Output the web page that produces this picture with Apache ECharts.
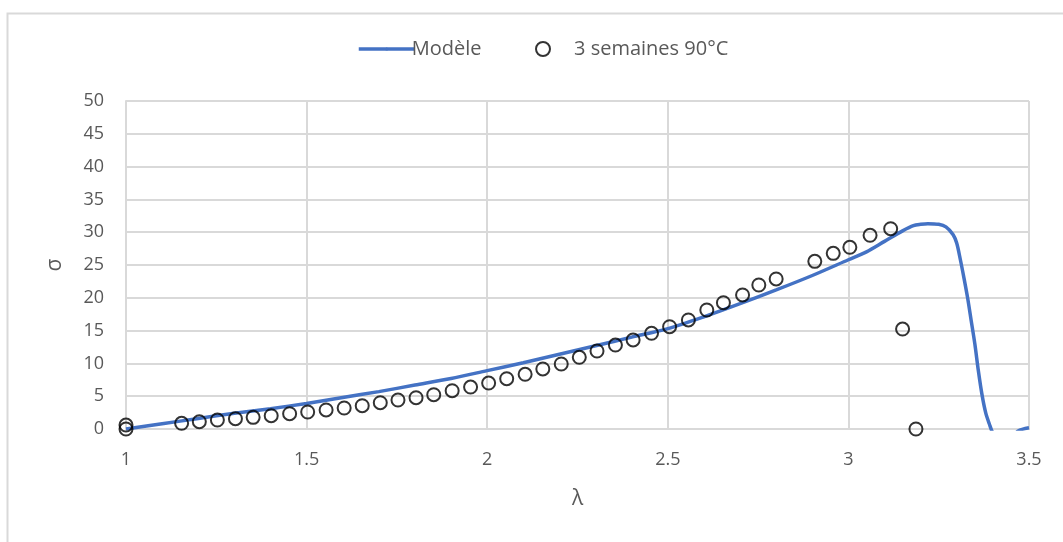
<!DOCTYPE html>
<html>
<head>
<meta charset="utf-8">
<script src="https://cdn.jsdelivr.net/npm/echarts@6/dist/echarts.min.js"></script>
<style>
  html, body { margin: 0; padding: 0; background: #fff; }
  #chart { width: 1063px; height: 542px; }
</style>
</head>
<body>
<div id="chart"></div>
<script>
// modèle (courbe continue)
const modelLambda = [1.0, 1.1, 1.2, 1.3, 1.4, 1.5, 1.6, 1.7, 1.8, 1.9, 2.0, 2.1, 2.2, 2.3, 2.4, 2.5, 2.6, 2.7, 2.8, 2.9, 3.0, 3.05, 3.1, 3.15, 3.18, 3.2, 3.22, 3.25, 3.27, 3.29, 3.3, 3.31, 3.32, 3.33, 3.34, 3.35, 3.36, 3.37, 3.38, 3.39, 3.4, 3.42, 3.44, 3.47, 3.5]
const modelSigma = [0, 0.8, 1.6, 2.4, 3.1, 3.9, 4.8, 5.7, 6.7, 7.7, 8.9, 10.1, 11.4, 12.7, 14.0, 15.3, 17.1, 19.1, 21.2, 23.4, 25.8, 27.0, 28.6, 30.2, 31.0, 31.2, 31.3, 31.2, 30.8, 29.6, 28.3, 25.8, 23.0, 20.0, 16.5, 13.0, 8.8, 5.2, 2.5, 0.8, -0.6, -1.8, -1.9, -0.3, 0.2]

// essais : 3 semaines à 90°C
const expLambda = [1.0, 1.0, 1.154, 1.203, 1.253, 1.303, 1.352, 1.402, 1.453, 1.503, 1.554, 1.604, 1.654, 1.704, 1.753, 1.803, 1.852, 1.903, 1.954, 2.004, 2.054, 2.105, 2.154, 2.205, 2.255, 2.304, 2.355, 2.404, 2.455, 2.505, 2.557, 2.608, 2.654, 2.707, 2.752, 2.800, 2.907, 2.958, 3.004, 3.060, 3.117, 3.150, 3.187]
const expSigma = [0, 0.6, 0.87, 1.11, 1.37, 1.57, 1.78, 2.03, 2.33, 2.59, 2.90, 3.20, 3.55, 4.01, 4.42, 4.77, 5.23, 5.84, 6.40, 7.01, 7.67, 8.34, 9.15, 9.91, 10.93, 11.89, 12.80, 13.57, 14.59, 15.59, 16.62, 18.14, 19.25, 20.43, 21.95, 22.87, 25.56, 26.78, 27.70, 29.53, 30.53, 15.24, 0]

const xTicks = [1, 1.5, 2, 2.5, 3, 3.5]

const chart = echarts.init(document.getElementById('chart'))
const font = 'Open Sans, Liberation Sans, sans-serif'

const option = {
  animation: false,
  graphic: [
    {
      type: 'rect',
      left: 5,
      top: 11,
      shape: { width: 1080, height: 560 },
      style: { fill: 'none', stroke: '#d9d9d9', lineWidth: 2 },
      silent: true
    }
  ],
  legend: [
    {
      left: 352,
      top: 34,
      data: ['Modèle'],
      itemWidth: 56,
      itemHeight: 4,
      itemGap: 0,
      lineStyle: { width: 3.5 },
      textStyle: { color: '#595959', fontSize: 20, fontFamily: font, padding: [0, 0, 0, -8] }
    },
    {
      left: 530,
      top: 34,
      data: ['3 semaines 90°C'],
      itemWidth: 14,
      itemHeight: 14,
      textStyle: { color: '#595959', fontSize: 20, fontFamily: font, padding: [0, 0, 0, 19] }
    }
  ],
  grid: {
    left: 126,
    right: 34,
    top: 101,
    bottom: 113,
    containLabel: false
  },
  xAxis: {
    type: 'value',
    min: 1,
    max: 3.5,
    interval: 0.5,
    name: 'λ',
    nameLocation: 'middle',
    nameGap: 60,
    nameTextStyle: { color: '#595959', fontSize: 21, fontFamily: font },
    axisLine: { show: true, lineStyle: { color: '#d9d9d9', width: 2 } },
    axisTick: { show: false },
    splitLine: { show: true, lineStyle: { color: '#d9d9d9', width: 2 } },
    axisLabel: {
      color: '#595959',
      fontSize: 18,
      fontFamily: font,
      margin: 22,
      formatter: (v) => {
        const t = xTicks.find((x) => Math.abs(x - v) < 1e-6)
        return t === undefined ? '' : String(t)
      }
    }
  },
  yAxis: {
    type: 'value',
    min: 0,
    max: 50,
    interval: 5,
    name: 'σ',
    nameLocation: 'middle',
    nameGap: 60,
    nameRotate: 90,
    nameTextStyle: { color: '#595959', fontSize: 21, fontFamily: font },
    axisLine: { show: true, lineStyle: { color: '#d9d9d9', width: 2 } },
    axisTick: { show: false },
    splitLine: { show: true, lineStyle: { color: '#d9d9d9', width: 2 } },
    axisLabel: { color: '#595959', fontSize: 18, fontFamily: font, margin: 22 }
  },
  series: [
    {
      name: 'Modèle',
      type: 'line',
      data: modelLambda.map((x, i) => [x, modelSigma[i]]),
      smooth: 0.3,
      showSymbol: false,
      symbol: 'none',
      clip: true,
      lineStyle: { color: '#4472C4', width: 3.5 },
      itemStyle: { color: '#4472C4' },
      z: 2
    },
    {
      name: '3 semaines 90°C',
      type: 'scatter',
      data: expLambda.map((x, i) => [x, expSigma[i]]),
      symbol: 'circle',
      symbolSize: 13,
      itemStyle: { color: 'rgba(255,255,255,0)', borderColor: '#000', borderWidth: 2 },
      clip: false,
      z: 3
    }
  ]
}

chart.setOption(option)
</script>
</body>
</html>
